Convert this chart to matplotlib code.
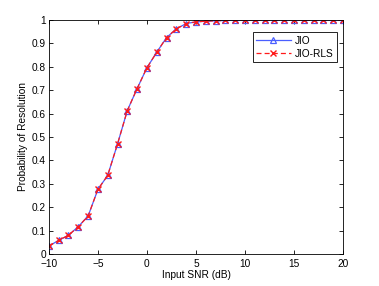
import numpy as np
import matplotlib
matplotlib.use('Agg')
import matplotlib.pyplot as plt

snr = np.arange(-10, 21)
jio = [0.034, 0.058, 0.08, 0.117, 0.162, 0.276, 0.336, 0.47, 0.613, 0.707, 0.796,
       0.862, 0.925, 0.962, 0.985, 0.992, 0.995, 0.997, 0.998, 0.999, 1.0,
       1.0, 1.0, 1.0, 1.0, 1.0, 1.0, 1.0, 1.0, 1.0, 1.0]
jio_rls = [0.034, 0.058, 0.08, 0.117, 0.162, 0.276, 0.336, 0.47, 0.613, 0.707, 0.796,
           0.862, 0.925, 0.962, 0.985, 0.992, 0.995, 0.997, 0.998, 0.999, 1.0,
           1.0, 1.0, 1.0, 1.0, 1.0, 1.0, 1.0, 1.0, 1.0, 1.0]

plt.rcParams['font.family'] = 'Liberation Sans'
plt.rcParams['font.size'] = 7.3

fig = plt.figure(figsize=(3.79, 2.86), dpi=100)
ax = fig.add_axes([0.129, 0.112, 0.776, 0.818])

ax.plot(snr, jio, color='#4a5fff', linestyle='-', marker='^', markersize=4,
        markerfacecolor='none', markeredgewidth=0.9, linewidth=0.9, label='JIO')
ax.plot(snr, jio_rls, color='#ff1a1a', linestyle='--', marker='x', markersize=4,
        markeredgewidth=1.0, linewidth=0.9, dashes=(4, 2.5), label='JIO-RLS')

ax.set_xlim(-10, 20)
ax.set_ylim(0, 1)
ax.set_xticks(np.arange(-10, 21, 5))
ax.set_yticks(np.arange(0, 1.01, 0.1))
ax.set_yticklabels(['0', '0.1', '0.2', '0.3', '0.4', '0.5', '0.6', '0.7', '0.8', '0.9', '1'])
ax.tick_params(direction='in', length=3, width=0.6, top=True, right=True, pad=2)
ax.tick_params(axis='x', pad=3.5)
for s in ax.spines.values():
    s.set_linewidth(0.6)

ax.set_xlabel('Input SNR (dB)', labelpad=0.5)
ax.set_ylabel('Probability of Resolution', labelpad=3)

leg = ax.legend(loc='upper right', bbox_to_anchor=(0.99, 0.96), fancybox=False,
                edgecolor='black', framealpha=1, handlelength=3.4, borderpad=0.35,
                labelspacing=0.25, handletextpad=0.4, borderaxespad=0.3)
leg.get_frame().set_linewidth(0.6)

fig.savefig('out.png', dpi=100)
